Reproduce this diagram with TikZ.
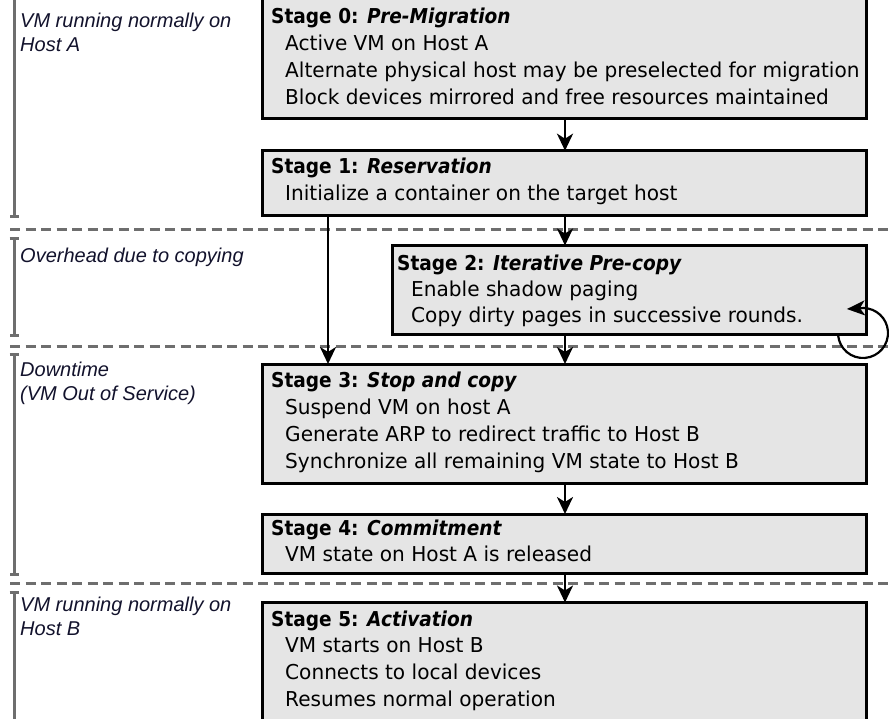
\documentclass[tikz,border=0pt]{standalone}
\usepackage{fontspec}
\setmainfont{Liberation Sans}
\newfontfamily\stagefont{DejaVu Sans}[FakeStretch=0.98]
\newfontfamily\stagehead{DejaVu Sans}[FakeStretch=0.905]
\usetikzlibrary{arrows.meta,calc}

\definecolor{boxfill}{HTML}{E5E5E5}
\definecolor{phasegray}{HTML}{6E6E6E}
\definecolor{labelink}{HTML}{12122C}

\newcommand{\stagetitle}[2]{{\stagehead\bfseries #1: \itshape #2}}

\begin{document}
\begin{tikzpicture}[x=1pt,y=-1pt,
  stagebox/.style={draw=black, line width=3pt, fill=boxfill, anchor=north west,
    inner sep=0pt, outer sep=0pt},
  stagetext/.style={anchor=north west, yshift=18.9pt, inner sep=0pt, align=left,
    font=\fontsize{20.5}{27}\selectfont\stagefont},
  phaselabel/.style={anchor=north west, yshift=16.8pt, inner sep=0pt, align=left,
    text=labelink, font=\fontsize{20}{24}\selectfont\itshape},
  phasebar/.style={draw=phasegray, line width=3pt, {Bar[width=9pt]}-{Bar[width=9pt]}},
  phasesplit/.style={draw=phasegray, line width=3pt, dash pattern=on 10pt off 5.5pt},
  flow/.style={draw=black, line width=2.8pt, -{Stealth[length=17pt,width=16pt,inset=5pt]}},
  loopline/.style={draw=black, line width=2.2pt, -{Stealth[length=18pt,width=15pt,inset=5pt]}}]

\useasboundingbox (0,0) rectangle (889,718);
\clip (0,0) rectangle (889,718);

% phase separators
\coordinate (splitA) at (10,229.3);
\coordinate (splitB) at (10,346);
\coordinate (splitC) at (10,583.3);
\coordinate (farright) at (895,0);
\draw[phasesplit] (splitA) -- (splitA -| farright);
\draw[phasesplit] (splitB) -- (splitB -| farright);
\draw[phasesplit] (splitC) -- (splitC -| farright);

% phase extent bars
\draw[phasebar] (14,-10) -- (14,218);
\draw[phasebar] (14,237) -- (14,337);
\draw[phasebar] (14,353) -- (14,576);
\draw[phasebar] (14,591) -- (14,730);

% phase labels
\node[phaselabel] (p0) at (20,27) {\strut VM running normally on\\Host A};
\node[phaselabel] (p1) at (20,262) {\strut Overhead due to copying};
\node[phaselabel] (p2) at (20,376.5) {\strut Downtime\\(VM Out of Service)};
\node[phaselabel] (p3) at (20,611.5) {\strut VM running normally on\\Host B};

% stage boxes
\node[stagebox, minimum width=603.5, minimum height=121.5] (s0) at (262.5,-3) {};
\node[stagebox, minimum width=603.5, minimum height=64.3] (s1) at (262.5,150.7) {};
\node[stagebox, minimum width=473.8, minimum height=89] (s2) at (392.2,245.5) {};
\node[stagebox, minimum width=603.5, minimum height=119.5] (s3) at (262.5,364) {};
\node[stagebox, minimum width=603.5, minimum height=59] (s4) at (262.5,514) {};
\node[stagebox, minimum width=603.5, minimum height=130] (s5) at (262.5,602.5) {};

% stage texts
\node[stagetext] (t0) at (271,23) {\strut\stagetitle{Stage 0}{Pre-Migration}\\
  \hspace*{14pt}Active VM on Host A\\
  \hspace*{14pt}Alternate physical host may be preselected for migration\\
  \hspace*{14pt}Block devices mirrored and free resources maintained};
\node[stagetext] (t1) at (271,173) {\strut\stagetitle{Stage 1}{Reservation}\\
  \hspace*{14pt}Initialize a container on the target host};
\node[stagetext, font=\fontsize{20.5}{26}\selectfont\stagefont, yshift=-0.7pt] (t2) at (397,270) {\strut\stagetitle{Stage 2}{Iterative Pre-copy}\\
  \hspace*{14pt}Enable shadow paging\\
  \hspace*{14pt}Copy dirty pages in successive rounds.};
\node[stagetext] (t3) at (271,387) {\strut\stagetitle{Stage 3}{Stop and copy}\\
  \hspace*{14pt}Suspend VM on host A\\
  \hspace*{14pt}Generate ARP to redirect traffic to Host B\\
  \hspace*{14pt}Synchronize all remaining VM state to Host B};
\node[stagetext, font=\fontsize{20.5}{26}\selectfont\stagefont, yshift=-0.7pt] (t4) at (271,535) {\strut\stagetitle{Stage 4}{Commitment}\\
  \hspace*{14pt}VM state on Host A is released};
\node[stagetext, font=\fontsize{20.5}{26.7}\selectfont\stagefont, yshift=-0.2pt] (t5) at (271,626) {\strut\stagetitle{Stage 5}{Activation}\\
  \hspace*{14pt}VM starts on Host B\\
  \hspace*{14pt}Connects to local devices\\
  \hspace*{14pt}Resumes normal operation};

% transitions between stages
\coordinate (axis) at (565,0);
\coordinate (side) at (328,0);
\draw[flow] (s0.south -| axis) -- (s1.north -| axis);
\draw[flow] (s1.south -| axis) -- (s2.north -| axis);
\draw[flow] (s1.south -| side) -- (s3.north -| side);
\draw[flow] (s2.south -| axis) -- (s3.north -| axis);
\draw[flow] (s3.south -| axis) -- (s4.north -| axis);
\draw[flow] (s4.south -| axis) -- (s5.north -| axis);

% repeated pre-copy rounds
\coordinate (loopc) at ($(s2.south east)+(-3,-1.5)$);
\draw[loopline] ($(loopc)+(175:25)$) arc[start angle=175, end angle=-88, radius=25]
  -- ++(-17,1);

\end{tikzpicture}
\end{document}
